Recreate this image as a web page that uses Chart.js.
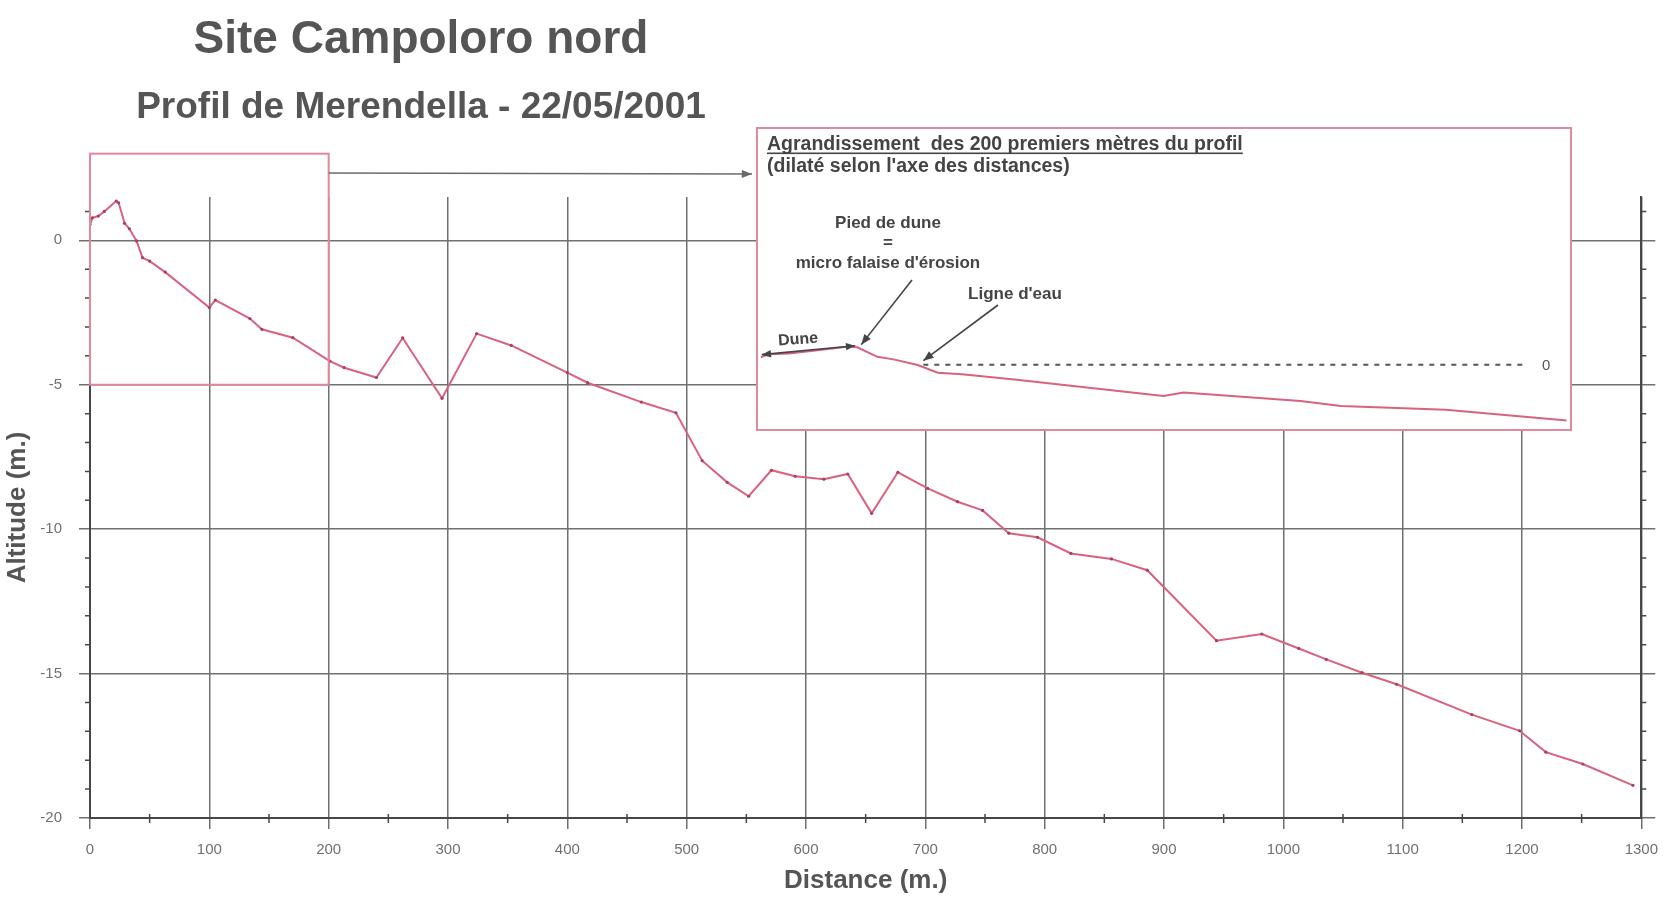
<!DOCTYPE html>
<html>
<head>
<meta charset="utf-8">
<script src="https://cdn.jsdelivr.net/npm/chart.js@4.4.1/dist/chart.umd.min.js"></script>
<style>
  body { margin: 0; background: #fff; }
  #wrap { position: relative; width: 1670px; height: 898px; }
  #inset { position: absolute; left: 756px; top: 127px; width: 812px; height: 300px;
           border: 2px solid #e0889c; background: #fff; }
  canvas { display: block; }
</style>
</head>
<body>
<div id="wrap">
  <canvas id="main" width="1670" height="898"></canvas>
  <div id="inset"><canvas id="zoom" width="812" height="300"></canvas></div>
</div>
<script>
// profile: distance (m) / altitude (m)
const distances = [0, 2, 7, 12, 22, 24, 29, 33, 39, 44, 50, 63, 100, 105, 134, 144, 170, 201, 213,
  240, 262, 295, 324, 353, 400, 417, 462, 491, 513, 534, 552, 571, 591, 615, 635, 655, 677,
  702, 727, 748, 770, 794, 822, 856, 886, 944, 982, 1013, 1036, 1066, 1095, 1158, 1198, 1220,
  1251, 1293];
const altitudes = [0.55, 0.78, 0.84, 1.0, 1.36, 1.3, 0.59, 0.4, -0.02, -0.6, -0.72, -1.1, -2.33,
  -2.07, -2.71, -3.08, -3.37, -4.18, -4.41, -4.75, -3.38, -5.47, -3.23, -3.64, -4.58, -4.93,
  -5.6, -5.97, -7.63, -8.38, -8.86, -7.96, -8.17, -8.27, -8.09, -9.45, -8.03, -8.59, -9.05,
  -9.35, -10.14, -10.28, -10.84, -11.03, -11.42, -13.86, -13.63, -14.13, -14.51, -14.97,
  -15.37, -16.42, -16.98, -17.72, -18.13, -18.87];

const xTickValues = [0, 100, 200, 300, 400, 500, 600, 700, 800, 900, 1000, 1100, 1200, 1300];
const yTickValues = [0, -5, -10, -15, -20];
const xMinorValues = [50, 150, 250, 350, 450, 550, 650, 750, 850, 950, 1050, 1150, 1250];
const yMinorValues = [1, -1, -2, -3, -4, -6, -7, -8, -9, -11, -12, -13, -14, -16, -17, -18, -19];

// inset: first 200 m, water line at 0
const zoomDistances = [0, 200];
const zoomBox = [3, -5];
const waterLineX = [40.4, 190.5];
const waterLevel = 0;

const profile = distances.map((d, i) => ({ x: d, y: altitudes[i] }));

const pink = '#d8627f';
const boxPink = '#e0889c';
const gridCol = '#707070';
const axisCol = '#474747';
const textCol = '#555';
const font = "'Liberation Sans', Arial, sans-serif";
Chart.defaults.font.family = font;

function head(ctx, fx, fy, tx, ty, size) {
  const a = Math.atan2(ty - fy, tx - fx);
  ctx.beginPath();
  ctx.moveTo(tx, ty);
  ctx.lineTo(tx - size * Math.cos(a - 0.38), ty - size * Math.sin(a - 0.38));
  ctx.lineTo(tx - size * Math.cos(a + 0.38), ty - size * Math.sin(a + 0.38));
  ctx.closePath();
  ctx.fill();
}

function arrow(ctx, x1, y1, x2, y2, size, both) {
  ctx.beginPath();
  ctx.moveTo(x1, y1);
  ctx.lineTo(x2, y2);
  ctx.stroke();
  head(ctx, x1, y1, x2, y2, size);
  if (both) head(ctx, x2, y2, x1, y1, size);
}

const mainDecor = {
  id: 'mainDecor',
  afterDraw(chart) {
    const ctx = chart.ctx, xs = chart.scales.x, ys = chart.scales.y, a = chart.chartArea;
    ctx.save();
    // titles
    ctx.fillStyle = textCol;
    ctx.textAlign = 'center';
    ctx.font = 'bold 46px ' + font;
    ctx.fillText('Site Campoloro nord', 421, 53);
    ctx.font = 'bold 37px ' + font;
    ctx.fillText('Profil de Merendella - 22/05/2001', 421, 118);

    // minor ticks
    ctx.strokeStyle = axisCol;
    ctx.lineWidth = 1.5;
    ctx.beginPath();
    yMinorValues.forEach(v => {
      const y = ys.getPixelForValue(v);
      ctx.moveTo(a.left - 5, y); ctx.lineTo(a.left, y);
      ctx.moveTo(a.right, y); ctx.lineTo(a.right + 5, y);
    });
    xMinorValues.forEach(v => {
      const x = xs.getPixelForValue(v);
      ctx.moveTo(x, a.bottom - 4); ctx.lineTo(x, a.bottom + 5);
    });
    ctx.stroke();

    // box around the first 200 m
    const bx1 = xs.getPixelForValue(zoomDistances[0]), bx2 = xs.getPixelForValue(zoomDistances[1]);
    const by1 = ys.getPixelForValue(zoomBox[0]), by2 = ys.getPixelForValue(zoomBox[1]);
    ctx.strokeStyle = boxPink;
    ctx.lineWidth = 2;
    ctx.strokeRect(bx1, by1, bx2 - bx1, by2 - by1);

    // connector to the inset
    const cy = ys.getPixelForValue(2.33);
    ctx.strokeStyle = '#6a6a6a';
    ctx.fillStyle = '#6a6a6a';
    ctx.lineWidth = 1.5;
    arrow(ctx, bx2, cy, 752, cy + 1, 11, false);
    ctx.restore();
  }
};

new Chart(document.getElementById('main'), {
  type: 'line',
  data: {
    datasets: [{
      data: profile,
      borderColor: pink,
      borderWidth: 2,
      pointRadius: 1.6,
      pointBorderWidth: 0,
      pointBackgroundColor: '#a8405f',
      tension: 0
    }]
  },
  options: {
    responsive: false,
    animation: false,
    layout: { padding: { left: 0, right: 0, top: 197, bottom: 0 } },
    plugins: { legend: { display: false }, tooltip: { enabled: false } },
    scales: {
      x: {
        type: 'linear', min: 0, max: 1300, bounds: 'data',
        afterBuildTicks: s => { s.ticks = xTickValues.map(v => ({ value: v })); },
        afterFit: s => { s.height = 80; },
        grid: { color: gridCol, lineWidth: 1.5, tickLength: 11 },
        border: { color: axisCol, width: 2 },
        ticks: { color: '#707070', font: { size: 15 }, padding: 12, maxRotation: 0, autoSkip: false,
                 callback: v => String(v) },
        title: { display: true, text: 'Distance (m.)', color: textCol,
                 font: { size: 26, weight: 'bold' }, padding: { top: 0, bottom: 2 } }
      },
      y: {
        type: 'linear', position: 'left', min: -20, max: 1.5, bounds: 'data',
        afterBuildTicks: s => { s.ticks = yTickValues.map(v => ({ value: v })); },
        afterFit: s => { s.width = 90; },
        grid: { color: gridCol, lineWidth: 1.5, tickLength: 11 },
        border: { color: axisCol, width: 2 },
        ticks: { color: '#707070', font: { size: 15 }, padding: 17, callback: v => String(v) },
        title: { display: true, text: 'Altitude (m.)', color: textCol,
                 font: { size: 26, weight: 'bold' }, padding: { top: 2, bottom: 0 } }
      },
      y2: {
        type: 'linear', position: 'right', min: -20, max: 1.5, bounds: 'data',
        afterBuildTicks: s => { s.ticks = yTickValues.map(v => ({ value: v })); },
        afterFit: s => { s.width = 26; },
        grid: { drawOnChartArea: false, color: gridCol, lineWidth: 1.5, tickLength: 14 },
        border: { color: axisCol, width: 2 },
        ticks: { display: false }
      }
    }
  },
  plugins: [mainDecor]
});

const zoomNotes = {
  id: 'zoomNotes',
  afterDatasetsDraw(chart) {
    const ctx = chart.ctx, xs = chart.scales.x, ys = chart.scales.y;
    const px = v => xs.getPixelForValue(v), py = v => ys.getPixelForValue(v);
    ctx.save();
    ctx.fillStyle = '#444';
    ctx.textAlign = 'left';
    ctx.font = 'bold 19.5px ' + font;
    const t1 = 'Agrandissement  des 200 premiers mètres du profil';
    ctx.fillText(t1, 9, 21);
    ctx.fillRect(9, 23.5, ctx.measureText(t1).width, 1.6);
    ctx.fillText("(dilaté selon l'axe des distances)", 9, 43);

    ctx.textAlign = 'center';
    ctx.font = 'bold 17px ' + font;
    ctx.fillText('Pied de dune', 130, 98.5);
    ctx.fillText('=', 130, 118.5);
    ctx.fillText("micro falaise d'érosion", 130, 138.5);
    ctx.fillText("Ligne d'eau", 257, 169.5);

    ctx.save();
    ctx.translate(40, 209);
    ctx.rotate(-0.07);
    ctx.font = 'bold 16px ' + font;
    ctx.fillText('Dune', 0, 6);
    ctx.restore();

    ctx.font = '15px ' + font;
    ctx.fillStyle = '#555';
    ctx.fillText(String(waterLevel), px(waterLineX[1]) + 18, py(waterLevel) + 5);

    ctx.strokeStyle = '#444';
    ctx.fillStyle = '#444';
    ctx.lineWidth = 1.6;
    arrow(ctx, 154, 151, px(25), py(1.5), 11, false);
    arrow(ctx, 240, 176, px(40.4), py(0.3), 11, false);
    arrow(ctx, px(0.3), py(0.75), px(23.5), py(1.42), 10, true);
    ctx.restore();
  }
};

new Chart(document.getElementById('zoom'), {
  type: 'line',
  data: {
    datasets: [{
      data: profile.filter(p => p.x <= 215),
      borderColor: pink,
      borderWidth: 2,
      pointRadius: 0,
      tension: 0
    }, {
      data: waterLineX.map(x => ({ x: x, y: waterLevel })),
      borderColor: '#555',
      borderWidth: 2,
      borderDash: [5, 6],
      pointRadius: 0
    }]
  },
  options: {
    responsive: false,
    animation: false,
    layout: { padding: { left: 2.5, right: 3.5, top: 0, bottom: 0 } },
    plugins: { legend: { display: false }, tooltip: { enabled: false } },
    scales: {
      x: { type: 'linear', display: false, min: zoomDistances[0], max: zoomDistances[1] },
      y: { type: 'linear', display: false, min: -4.8, max: 17.6 }
    }
  },
  plugins: [zoomNotes]
});
</script>
</body>
</html>
